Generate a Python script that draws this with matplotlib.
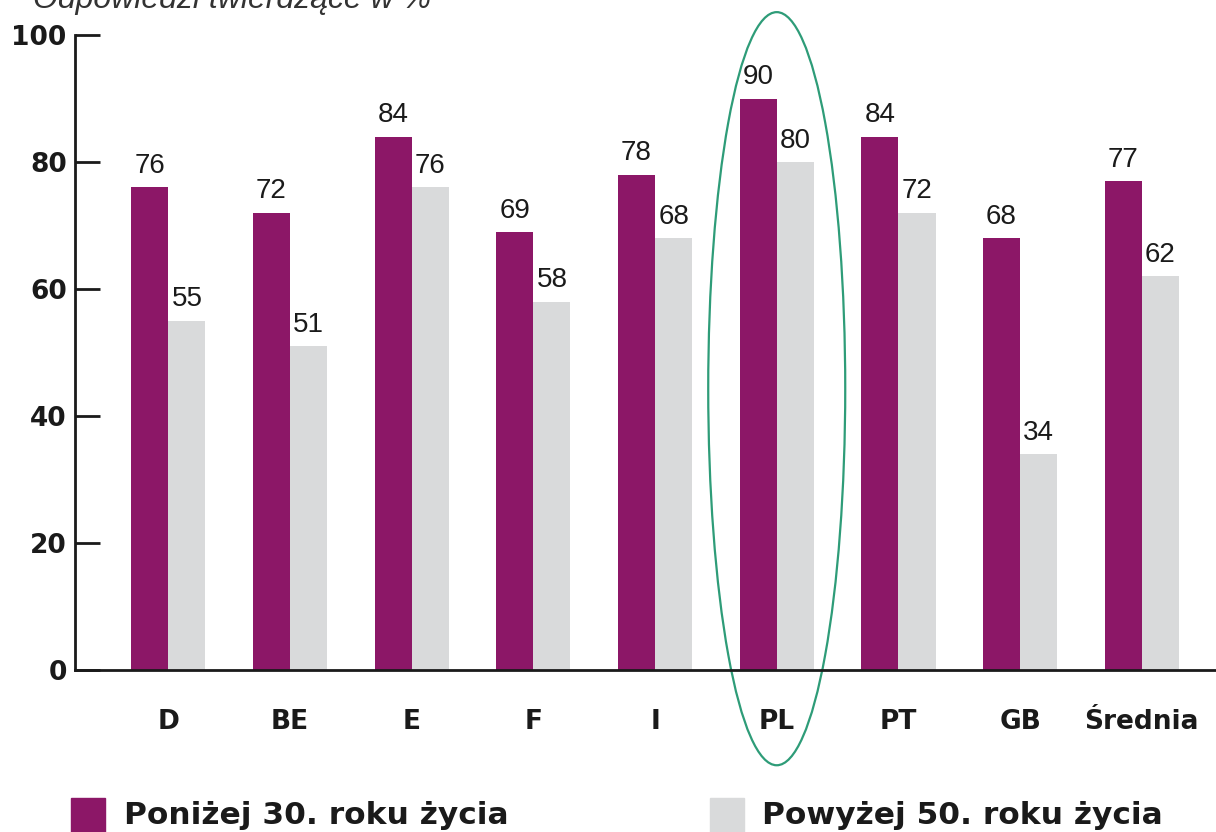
import matplotlib
matplotlib.use("Agg")
import matplotlib.pyplot as plt
from matplotlib.patches import Ellipse, Rectangle
import numpy as np

plt.rcParams['font.family'] = ['Liberation Sans', 'DejaVu Sans']

categories = ["D", "BE", "E", "F", "I", "PL", "PT", "GB", "Średnia"]
below30 = [76, 72, 84, 69, 78, 90, 84, 68, 77]
above50 = [55, 51, 76, 58, 68, 80, 72, 34, 62]
series_names = ["Poniżej 30. roku życia", "Powyżej 50. roku życia"]
yticks = [0, 20, 40, 60, 80, 100]
title = "Odpowiedzi twierdzące w %"
highlight = "PL"

purple = "#8C1767"
gray = "#D9DADB"
green = "#2E9C78"
ink = "#1a1a1a"

W, H = 1216, 832
fig = plt.figure(figsize=(W / 100, H / 100), dpi=100)
ax = fig.add_axes([75 / W, (H - 670) / H, 1 - 75 / W, (670 - 35) / H])

x = np.arange(len(categories))
bw = 0.305
b1 = ax.bar(x - bw / 2, below30, width=bw, color=purple)
b2 = ax.bar(x + bw / 2, above50, width=bw, color=gray)

for bars, vals in ((b1, below30), (b2, above50)):
    for r, v in zip(bars, vals):
        ax.annotate(str(v), (r.get_x() + r.get_width() / 2, v),
                    xytext=(0, 6), textcoords="offset points",
                    ha="center", va="bottom", fontsize=20, color=ink)

ax.set_xlim(-0.767, 8.61)
ax.set_ylim(0, 100)
ax.set_yticks(yticks)
ax.set_yticklabels([str(t) for t in yticks], fontsize=19, fontweight="bold",
                   family="DejaVu Sans")
ax.tick_params(axis="y", direction="in", length=18, width=2, pad=6, colors=ink)
ax.set_xticks(x)
ax.set_xticklabels(categories, fontsize=19, fontweight="bold", family="DejaVu Sans")
ax.tick_params(axis="x", length=0, pad=28, colors=ink)
for s in ("top", "right"):
    ax.spines[s].set_visible(False)
for s in ("left", "bottom"):
    ax.spines[s].set_linewidth(2)
    ax.spines[s].set_color(ink)

hi = categories.index(highlight)
ell = Ellipse((hi, 44.3), width=1.126, height=118.6, fill=False,
              edgecolor=green, linewidth=1.6, clip_on=False)
ax.add_patch(ell)

fig.text(33 / W, (H - 8) / H, title, fontsize=23, style="italic",
         color="#333333", ha="left", va="baseline")

# legend
leg_items = [(71, 124, purple, series_names[0]), (710, 762, gray, series_names[1])]
for sx, tx, col, name in leg_items:
    fig.patches.append(Rectangle((sx / W, 0), 34 / W, 34 / H, transform=fig.transFigure,
                                 color=col, figure=fig))
    fig.text(tx / W, 8 / H, name, fontsize=22.5, fontweight="bold",
             family="DejaVu Sans", color=ink, ha="left", va="baseline")

fig.savefig("out.png", dpi=100)
